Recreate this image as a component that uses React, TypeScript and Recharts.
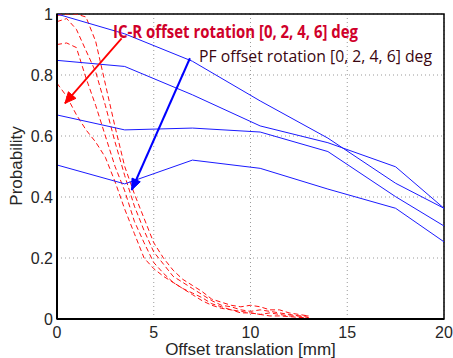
import { CartesianGrid, Line, LineChart, ReferenceArea, XAxis, YAxis } from 'recharts'

// blue: PF, offset rotation 0/2/4/6 deg
const xPF = [0, 3.5, 7, 10.5, 14, 17.5, 20]
const pf0 = [1.0, 0.935, 0.845, 0.715, 0.593, 0.445, 0.363]
const pf2 = [0.848, 0.828, 0.735, 0.633, 0.578, 0.499, 0.363]
const pf4 = [0.669, 0.62, 0.626, 0.613, 0.549, 0.401, 0.305]
const pf6 = [0.505, 0.443, 0.521, 0.494, 0.426, 0.363, 0.253]

// red dashed: IC-R
const xICR = [0, 0.5, 1, 1.5, 2, 2.5, 3, 3.5, 4, 4.5, 5, 5.5, 6, 6.5, 7, 7.5, 8, 8.5, 9, 9.5, 10, 10.5, 11, 11.5, 12, 12.5, 13]
const icr0 = [0.995, 1.0, 1.0, 0.99, 0.91, 0.77, 0.63, 0.5, 0.41, 0.33, 0.25, 0.2, 0.16, 0.13, 0.11, 0.09, 0.065, 0.055, 0.045, 0.04, 0.045, 0.04, 0.03, 0.03, 0.02, 0.015, 0.01]
const icr2 = [0.975, 0.985, 0.95, 0.88, 0.81, 0.7, 0.58, 0.47, 0.37, 0.29, 0.22, 0.18, 0.14, 0.12, 0.1, 0.08, 0.06, 0.045, 0.04, 0.03, 0.025, 0.03, 0.025, 0.02, 0.015, 0.01, 0.01]
const icr4 = [0.9, 0.905, 0.89, 0.79, 0.7, 0.6, 0.5, 0.42, 0.32, 0.25, 0.185, 0.15, 0.12, 0.1, 0.085, 0.07, 0.05, 0.04, 0.03, 0.025, 0.02, 0.015, 0.02, 0.015, 0.01, 0.01, 0.005]
const icr6 = [0.773, 0.73, 0.67, 0.62, 0.58, 0.53, 0.45, 0.36, 0.28, 0.2, 0.165, 0.14, 0.12, 0.1, 0.08, 0.06, 0.045, 0.035, 0.03, 0.02, 0.02, 0.015, 0.01, 0.01, 0.008, 0.005, 0.005]

// annotation arrows (tail, tip) in data units
const arrowICR = [{ x: 3.34, y: 0.92 }, { x: 0.41, y: 0.707 }]
const arrowPF = [{ x: 6.87, y: 0.855 }, { x: 3.86, y: 0.423 }]

const xTicks = [0, 5, 10, 15, 20]
const yTicks = [0, 0.2, 0.4, 0.6, 0.8, 1]

const toRows = (xs: number[], ys: number[]) => xs.map((x, i) => ({ x, y: ys[i] }))

const tickStyle = { fontSize: 16, fill: '#262626', fontFamily: '"Liberation Sans", Arial, sans-serif' }

function arrowHead(color: string, len: number, half: number) {
  return (p: any) => {
    if (p.index !== 1) return <g key={`d${p.index}`} />
    const pts = p.points
    let ang = Math.PI * 0.75
    if (pts && pts.length > 1) ang = Math.atan2(pts[1].y - pts[0].y, pts[1].x - pts[0].x)
    const bx = p.cx - len * Math.cos(ang)
    const by = p.cy - len * Math.sin(ang)
    const nx = -Math.sin(ang) * half
    const ny = Math.cos(ang) * half
    return (
      <polygon
        key="head"
        points={`${p.cx},${p.cy} ${bx + nx},${by + ny} ${bx - nx},${by - ny}`}
        fill={color}
        stroke={color}
        strokeWidth={1}
      />
    )
  }
}

export default function App() {
  const blue = [pf0, pf2, pf4, pf6]
  const red = [icr0, icr2, icr4, icr6]
  return (
    <div style={{ position: 'absolute', left: 0, top: 0, width: 453, height: 358, background: '#fff' }}>
      <LineChart width={453} height={358} margin={{ top: 14, right: 9, bottom: 0, left: 0 }}>
        <CartesianGrid stroke="#9a9a9a" strokeDasharray="1 3" />
        <XAxis
          type="number"
          dataKey="x"
          domain={[0, 20]}
          ticks={xTicks}
          allowDataOverflow
          height={39}
          tick={tickStyle}
          tickLine={false}
          axisLine={{ stroke: '#000', strokeWidth: 2 }}
        />
        <YAxis
          type="number"
          dataKey="y"
          domain={[0, 1]}
          ticks={yTicks}
          allowDataOverflow
          width={57}
          tick={tickStyle}
          tickLine={false}
          tickSize={2}
          tickMargin={2}
          tickFormatter={(v: number) => String(v)}
          axisLine={{ stroke: '#000', strokeWidth: 2 }}
        />
        <ReferenceArea x1={0} x2={20} y1={0} y2={1} fill="none" stroke="#000" strokeWidth={1.5} />
        {red.map((ys, i) => (
          <Line key={`r${i}`} data={toRows(xICR, ys)} dataKey="y" stroke="#ff1010" strokeWidth={1}
            strokeDasharray="5 3" dot={false} activeDot={false} isAnimationActive={false} />
        ))}
        {blue.map((ys, i) => (
          <Line key={`b${i}`} data={toRows(xPF, ys)} dataKey="y" stroke="#1a1aff" strokeWidth={1}
            dot={false} activeDot={false} isAnimationActive={false} />
        ))}
        <Line data={arrowICR} dataKey="y" stroke="#ff0000" strokeWidth={1.8}
          dot={arrowHead('#ff0000', 11, 5)} activeDot={false} isAnimationActive={false} />
        <Line data={arrowPF} dataKey="y" stroke="#0000ff" strokeWidth={2}
          dot={arrowHead('#0000ff', 11, 4.5)} activeDot={false} isAnimationActive={false} />
      </LineChart>
      <svg width={453} height={358} style={{ position: 'absolute', left: 0, top: 0, pointerEvents: 'none' }}>
        <text x={113} y={37.5} fontSize={17} fontWeight={700} fill="#d0002a"
          fontFamily='"Open Sans", "Noto Sans", sans-serif' textLength={245} lengthAdjust="spacingAndGlyphs">
          IC-R offset rotation [0, 2, 4, 6] deg
        </text>
        <text x={199} y={61.5} fontSize={17} fill="#3a0610"
          fontFamily='"Open Sans", "Noto Sans", sans-serif' textLength={233} lengthAdjust="spacingAndGlyphs">
          PF offset rotation [0, 2, 4, 6] deg
        </text>
        <text x={250.5} y={355} fontSize={17} fill="#262626" textAnchor="middle"
          fontFamily='"Liberation Sans", Arial, sans-serif'>
          Offset translation [mm]
        </text>
        <text x={22} y={166} fontSize={17} fill="#262626" textAnchor="middle" transform="rotate(-90 22 166)"
          fontFamily='"Liberation Sans", Arial, sans-serif'>
          Probability
        </text>
      </svg>
    </div>
  )
}
